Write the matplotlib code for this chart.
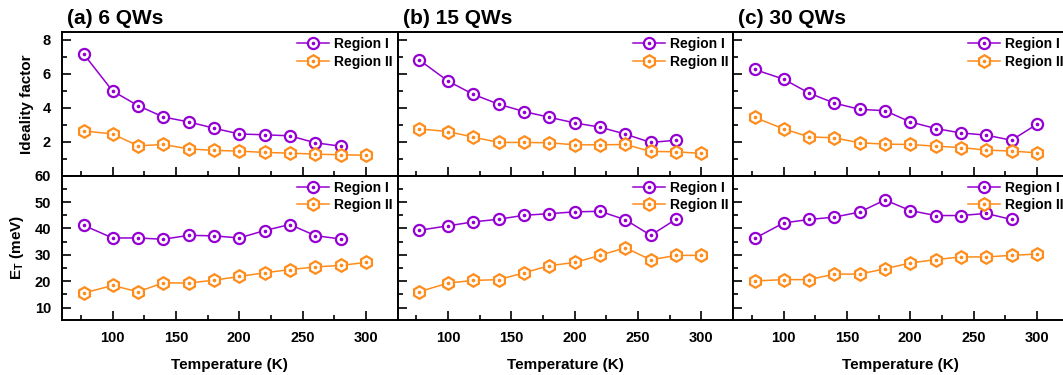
import matplotlib.pyplot as plt
from matplotlib.legend_handler import HandlerTuple
from matplotlib.ticker import MultipleLocator

plt.rcParams['font.family'] = ['Liberation Sans', 'DejaVu Sans']
plt.rcParams['font.weight'] = 'bold'
plt.rcParams['mathtext.fontset'] = 'custom'
plt.rcParams['mathtext.rm'] = 'Liberation Sans:bold'
plt.rcParams['mathtext.bf'] = 'Liberation Sans:bold'

# Temperatures (K)
temps = [77, 100, 120, 140, 160, 180, 200, 220, 240, 260, 280, 300]

titles = ['(a) 6 QWs', '(b) 15 QWs', '(c) 30 QWs']

# Ideality factor
ideal_r1 = [
    [7.18, 4.99, 4.13, 3.46, 3.17, 2.80, 2.46, 2.41, 2.35, 1.94, 1.74],
    [6.83, 5.57, 4.79, 4.21, 3.78, 3.44, 3.11, 2.86, 2.45, 1.96, 2.09],
    [6.26, 5.69, 4.87, 4.28, 3.91, 3.83, 3.17, 2.78, 2.52, 2.39, 2.09, 3.03],
]
ideal_r2 = [
    [2.64, 2.46, 1.76, 1.84, 1.58, 1.49, 1.45, 1.37, 1.33, 1.27, 1.23, 1.21],
    [2.76, 2.60, 2.27, 1.96, 1.96, 1.94, 1.82, 1.82, 1.84, 1.43, 1.41, 1.31],
    [3.44, 2.76, 2.29, 2.23, 1.94, 1.86, 1.84, 1.74, 1.66, 1.51, 1.45, 1.35],
]

# E_T (meV)
et_r1 = [
    [41.2, 36.4, 36.4, 35.9, 37.4, 37.2, 36.4, 39.2, 41.5, 37.3, 36.0],
    [39.3, 41.0, 42.5, 43.5, 45.0, 45.6, 46.3, 46.5, 43.3, 37.4, 43.5],
    [36.2, 42.1, 43.4, 44.3, 46.2, 50.8, 46.8, 44.9, 44.9, 45.7, 43.4],
]
et_r2 = [
    [15.5, 18.4, 16.0, 19.4, 19.3, 20.4, 21.8, 23.2, 24.4, 25.4, 26.0, 27.1],
    [16.0, 19.3, 20.3, 20.6, 23.2, 25.9, 27.1, 29.8, 32.7, 28.1, 29.8, 29.8],
    [20.1, 20.6, 20.6, 22.7, 22.7, 24.7, 26.9, 28.2, 29.2, 29.2, 29.8, 30.3],
]

c1 = '#9400D3'
c2 = '#FF8C1A'

W, H = 1063, 375
fig = plt.figure(figsize=(W / 100, H / 100), dpi=100)

left0 = 62
pw = 335.5


def draw(ax, y1, y2):
    l1, = ax.plot(temps[:len(y1)], y1, color=c1, lw=1.1, marker='o', ms=8,
                  mfc='white', mec=c1, mew=1.6)
    d1, = ax.plot(temps[:len(y1)], y1, ls='none', marker='o', ms=1.6, color=c1)
    l2, = ax.plot(temps[:len(y2)], y2, color=c2, lw=1.1, marker='h', ms=9,
                  mfc='white', mec=c2, mew=1.6)
    d2, = ax.plot(temps[:len(y2)], y2, ls='none', marker='o', ms=1.6, color=c2)
    ax.legend([(l1, d1), (l2, d2)], ['Region I', 'Region II'],
              handler_map={tuple: HandlerTuple(ndivide=1)},
              loc='upper right', frameon=False, numpoints=1,
              handlelength=2.3, handletextpad=0.35, borderaxespad=0.15,
              borderpad=0.2, labelspacing=0.25,
              prop={'weight': 'bold', 'size': 10})


def style(ax):
    ax.set_xlim(60, 325)
    ax.xaxis.set_major_locator(MultipleLocator(50))
    ax.xaxis.set_minor_locator(MultipleLocator(25))
    ax.tick_params(which='both', direction='in', width=1.2, labelsize=10.5,
                   top=False, right=False)
    ax.tick_params(which='major', length=6.5)
    ax.tick_params(which='minor', length=3.5)
    ax.tick_params(axis='y', pad=8)
    ax.tick_params(axis='x', pad=8)
    for s in ax.spines.values():
        s.set_linewidth(1.4)


for i in range(3):
    x0 = (left0 + i * pw) / W
    ax_t = fig.add_axes([x0, 1 - 175.7 / H, pw / W, (175.7 - 32.3) / H])
    ax_b = fig.add_axes([x0, 1 - 320 / H, pw / W, (320 - 175.7) / H])

    draw(ax_t, ideal_r1[i], ideal_r2[i])
    draw(ax_b, et_r1[i], et_r2[i])

    style(ax_t)
    style(ax_b)

    ax_t.set_ylim(0, 8.45)
    ax_t.set_yticks([2, 4, 6, 8])
    ax_t.yaxis.set_minor_locator(MultipleLocator(1))
    ax_t.tick_params(labelbottom=False)

    ax_b.set_ylim(5.3, 60)
    ax_b.set_yticks([10, 20, 30, 40, 50, 60])
    ax_b.yaxis.set_minor_locator(MultipleLocator(5))
    ax_b.set_xlabel('Temperature (K)', fontsize=11, fontweight='bold', labelpad=9)

    ax_t.text(0.015, 1.03, titles[i], transform=ax_t.transAxes, fontsize=15,
              fontweight='bold', ha='left', va='bottom')

    if i == 0:
        ax_t.set_ylabel('Ideality factor', fontsize=11, fontweight='bold', labelpad=6)
        ax_b.set_ylabel(r'E$_\mathregular{T}$ (meV)', fontsize=11, fontweight='bold', labelpad=6)
    else:
        ax_t.tick_params(labelleft=False)
        ax_b.tick_params(labelleft=False)

plt.savefig('out.png', dpi=100)
